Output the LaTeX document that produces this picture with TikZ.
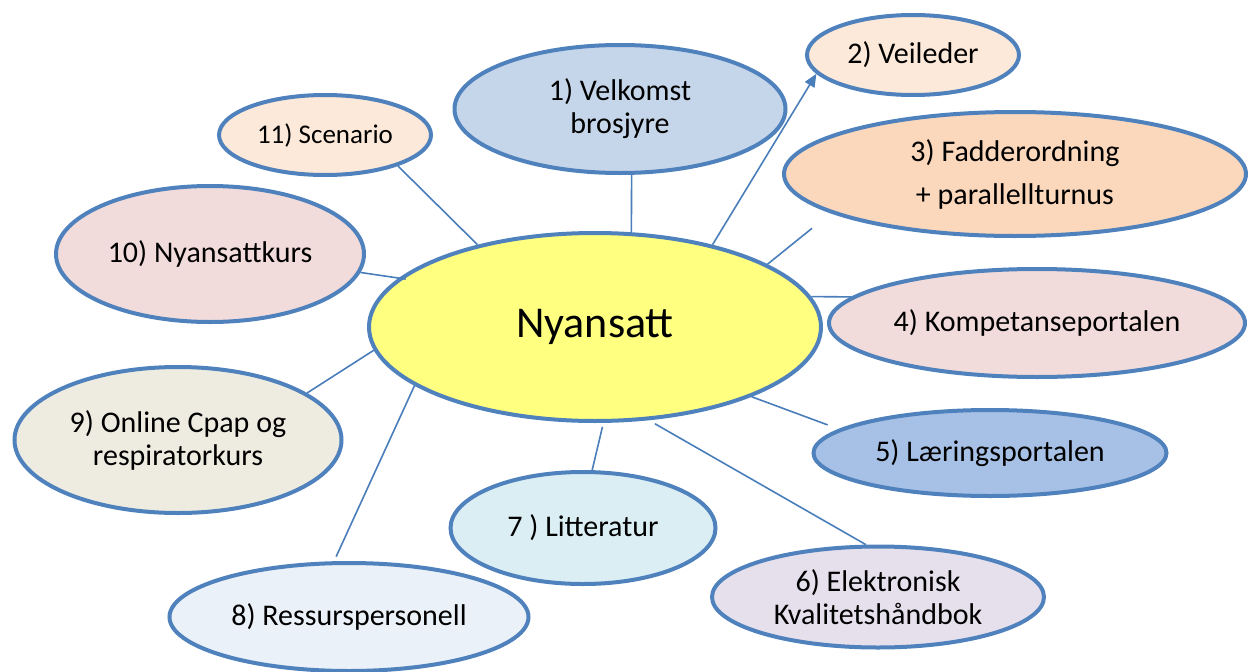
\documentclass[tikz,border=0pt]{standalone}
\usepackage{fontspec}
\setmainfont{Carlito}
\usetikzlibrary{shapes.geometric,arrows.meta}
\definecolor{bord}{RGB}{79,129,189}
\definecolor{conn}{RGB}{74,126,187}
\definecolor{cNy}{RGB}{255,255,128}
\definecolor{cVel}{RGB}{198,214,234}
\definecolor{cOrL}{RGB}{253,233,217}
\definecolor{cOr}{RGB}{251,215,187}
\definecolor{cRed}{RGB}{242,220,219}
\definecolor{cBlu}{RGB}{167,193,230}
\definecolor{cPur}{RGB}{229,224,236}
\definecolor{cAqu}{RGB}{219,238,244}
\definecolor{cPale}{RGB}{235,241,248}
\definecolor{cTan}{RGB}{238,236,225}
\tikzset{
  bub/.style={ellipse, draw=bord, line width=4pt, inner sep=0pt, align=center,
    font=\fontsize{30}{33}\selectfont, text=black},
  conline/.style={draw=conn, line width=1.6pt},
}
\begin{document}
\begin{tikzpicture}[x=1pt,y=-1pt]
\useasboundingbox (0,0) rectangle (1251,672);
\node[bub, fill=cNy, minimum width=452pt, minimum height=188pt, font=\fontsize{44}{50}\selectfont] (ny) at (595,327) {Nyansatt};
\node[bub, fill=cVel, minimum width=331pt, minimum height=128pt] (v1) at (620,109) {1) Velkomst\\brosjyre};
\node[bub, fill=cOrL, minimum width=212pt, minimum height=80pt] (v2) at (913,55) {2) Veileder};
\node[bub, fill=cOr, minimum width=462pt, minimum height=124pt, font=\fontsize{30}{43}\selectfont] (f3) at (1015,174) {3) Fadderordning\\+ parallellturnus};
\node[bub, fill=cRed, minimum width=416pt, minimum height=108pt] (k4) at (1037,323) {4) Kompetanseportalen};
\node[bub, fill=cBlu, minimum width=353pt, minimum height=86pt] (l5) at (990,453) {5) Læringsportalen};
\node[bub, fill=cPur, minimum width=332pt, minimum height=101pt] (e6) at (878,597) {6) Elektronisk\\Kvalitetshåndbok};
\node[bub, fill=cAqu, minimum width=265pt, minimum height=112pt] (l7) at (583,528) {7 ) Litteratur};
\node[bub, fill=cPale, minimum width=359pt, minimum height=108pt] (r8) at (349,617) {8) Ressurspersonell};
\node[bub, fill=cTan, minimum width=327pt, minimum height=146pt] (o9) at (178,440) {9) Online Cpap og\\respiratorkurs};
\node[bub, fill=cRed, minimum width=308pt, minimum height=136pt] (n10) at (210,254) {10) Nyansattkurs};
\node[bub, fill=cOrL, minimum width=212pt, minimum height=80pt, font=\fontsize{27}{33}\selectfont] (s11) at (325,135) {11) Scenario};
% connectors
\draw[conline] (ny.69.7) -- (v1.-80);
\draw[conline, -{Triangle[length=13pt,width=11pt]}] (ny.35.4) -- (v2.191.2);
\draw[conline, shorten >=24pt] (ny.20.7) -- (f3.192.7);
\draw[conline] (ny.8.8) -- (k4.172.2);
\draw[conline, shorten >=12pt] (ny.-24.9) -- (l5.171.7);
\draw[conline, shorten <=7pt] (ny.-60.7) -- (e6.103);
\draw[conline, shorten <=4pt] (ny.-85.9) -- (l7.81.2);
\draw[conline, shorten >=5pt] (ny.198.7) -- (r8.105.8);
\draw[conline] (ny.186.4) -- (o9.20.3);
\draw[conline, shorten >=-7pt] (n10.-7.4) -- (ny.166.2);
\draw[conline] (s11.-23.9) -- (ny.145.3);
\end{tikzpicture}
\end{document}
